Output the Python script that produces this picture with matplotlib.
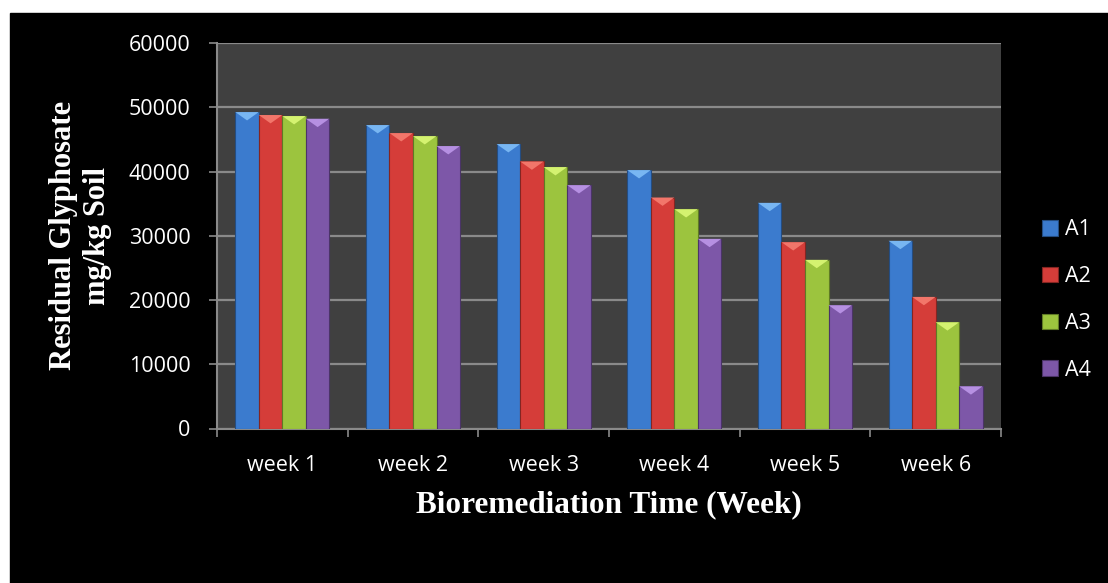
import numpy as np
import matplotlib
matplotlib.use("Agg")
import matplotlib.pyplot as plt
from matplotlib.patches import Rectangle, Polygon

weeks = ["week 1", "week 2", "week 3", "week 4", "week 5", "week 6"]
series = ["A1", "A2", "A3", "A4"]
a1 = [49250, 47230, 44270, 40220, 35120, 29210]
a2 = [48790, 45980, 41560, 35950, 29000, 20480]
a3 = [48630, 45510, 40690, 34140, 26250, 16540]
a4 = [48210, 43960, 37880, 29520, 19190, 6570]

colors = ["#3b7bce", "#d53d39", "#9cc43e", "#7d57a8"]
tops = ["#78b6f2", "#f2766a", "#d4f270", "#b690e2"]
edges = ["#244d82", "#842522", "#5f7a25", "#4b3468"]


def draw_chart():
    fig = plt.figure(figsize=(11.08, 5.83), dpi=100, facecolor="white")
    # black panel with a thin white margin on top/left
    fig.patches.append(Rectangle((10 / 1108, 0), 1, 1 - 13 / 583,
                                 transform=fig.transFigure, color="black", zorder=-10))
    ax = fig.add_axes([217 / 1108, 1 - 428.5 / 583, 784 / 1108, 385.5 / 583])
    ax.set_facecolor("#404040")

    x = np.arange(len(weeks))
    w = 0.18
    tri_h = 1300
    handles = []
    for i, vals in enumerate([a1, a2, a3, a4]):
        off = (i - 1.5) * w
        bars = ax.bar(x + off, vals, w, color=colors[i], edgecolor=edges[i],
                      linewidth=0.8, zorder=3, label=series[i])
        handles.append(bars)
        for b in bars:
            bx, bw, bh = b.get_x(), b.get_width(), b.get_height()
            ax.add_patch(Polygon([[bx, bh], [bx + bw, bh], [bx + bw / 2, bh - tri_h]],
                                 closed=True, facecolor=tops[i], edgecolor="none", zorder=4))

    ax.set_xlim(-0.5, len(weeks) - 0.5)
    ax.set_ylim(0, 60000)
    ax.set_yticks(np.arange(0, 60001, 10000))
    ax.yaxis.grid(True, color="#8a8a8a", linewidth=1.6, zorder=0)
    ax.set_axisbelow(True)

    ax.set_xticks(np.arange(-0.5, len(weeks)), labels=[""] * (len(weeks) + 1))
    ax.set_xticks(x, labels=weeks, minor=True)
    ax.tick_params(axis="x", which="major", length=6, width=1.2, color="#8a8a8a", direction="out")
    ax.tick_params(axis="x", which="minor", length=0, pad=19, labelsize=15.5, labelcolor="white")
    ax.tick_params(axis="y", length=6, width=1.2, color="#8a8a8a", pad=13,
                   labelsize=15.5, labelcolor="white")
    for lab in ax.get_xticklabels(minor=True) + ax.get_yticklabels():
        lab.set_fontfamily("Open Sans")

    for s in ["top", "right"]:
        ax.spines[s].set_visible(False)
    for s in ["left", "bottom"]:
        ax.spines[s].set_color("#8a8a8a")
        ax.spines[s].set_linewidth(1.5)

    ax.set_xlabel("Bioremediation Time (Week)", fontsize=22.5, fontweight="bold",
                  family="Liberation Serif", color="white", labelpad=10)
    ax.set_ylabel("Residual Glyphosate\nmg/kg Soil", fontsize=22, fontweight="bold",
                  family="Liberation Serif", color="white", labelpad=12, linespacing=1.25)

    leg = fig.legend(handles=handles, labels=series, loc="center left",
                     bbox_to_anchor=(1031 / 1108, 1 - 300 / 583), frameon=False,
                     labelspacing=1.2, handlelength=0.75, handleheight=0.75,
                     handletextpad=0.35, borderpad=0,
                     prop={"family": "Open Sans", "size": 15.5})
    for t in leg.get_texts():
        t.set_color("white")

    fig.savefig("out.png", dpi=100, facecolor=fig.get_facecolor())


if __name__ == "__main__":
    draw_chart()
